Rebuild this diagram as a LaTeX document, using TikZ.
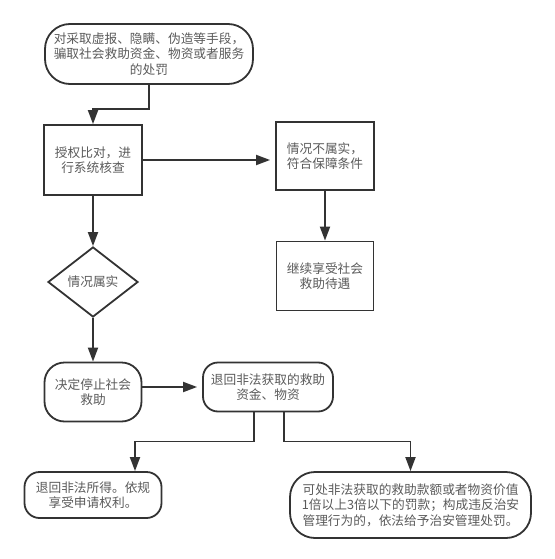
\documentclass[tikz,border=0pt]{standalone}
\usepackage{fontspec}
\setmainfont{Noto Sans CJK SC}
\usetikzlibrary{shapes.geometric,arrows.meta}
\definecolor{linec}{HTML}{333333}
\definecolor{textc}{HTML}{5A5A5A}
\begin{document}
\begin{tikzpicture}[x=1pt,y=-1pt,
  box/.style={draw=linec, line width=1.8pt, text=textc, font=\fontsize{12.7}{15.5}\selectfont, align=center, inner sep=0pt},
  conn/.style={draw=linec, line width=1.8pt},
  arr/.style={conn, -{Triangle[length=14pt,width=10pt]}}]
\useasboundingbox (0,0) rectangle (554,559);
\node[box, rounded corners=25pt, minimum width=208pt, minimum height=60pt] (n1) at (149,54)
  {对采取虚报、隐瞒、伪造等手段，\\骗取社会救助资金、物资或者服务\\的处罚};
\node[box, minimum width=98pt, minimum height=70pt] (n2) at (93,160) {授权比对，进\\行系统核查};
\node[box, minimum width=98pt, minimum height=68pt] (n3) at (325,156) {情况不属实，\\符合保障条件};
\node[box, minimum width=97pt, minimum height=69pt] (n4) at (325,276) {继续享受社会\\救助待遇};
\node[box, diamond, aspect=1.29, minimum width=90pt, minimum height=70pt] (d) at (93,282) {情况属实};
\node[box, rounded corners=20pt, minimum width=97pt, minimum height=59pt] (n5) at (93,392) {决定停止社会\\救助};
\node[box, rounded corners=15pt, minimum width=130pt, minimum height=49pt] (n6) at (268,387) {退回非法获取的救助\\资金、物资};
\node[box, rounded corners=15pt, minimum width=137pt, minimum height=46pt] (n7) at (93,495) {退回非法所得。依规\\享受申请权利。};
\node[box, rounded corners=25pt, minimum width=241pt, minimum height=66pt] (n8) at (410.5,505)
  {可处非法获取的救助款额或者物资价值\\1倍以上3倍以下的罚款；构成违反治安\\管理行为的，依法给予治安管理处罚。};
\draw[arr, shorten >=5pt] (n2.east) -- (n2.east -| n3.west);
\draw[arr] (n1.south) -- ++(0,24) -| (n2.north);
\draw[arr] (n3.south) -- (n4.north);
\draw[arr] (n2.south) -- (d.north);
\draw[arr] (d.south) -- (n5.north);
\draw[arr, shorten >=5pt] (n6.west -| n5.east) -- (n6.west);
\draw[arr] ([xshift=-14pt]n6.south) -- ++(0,29) -| ([xshift=42pt]n7.north);
\draw[arr] ([xshift=16pt]n6.south) -- ++(0,29) -| (n8.north);
\end{tikzpicture}
\end{document}
